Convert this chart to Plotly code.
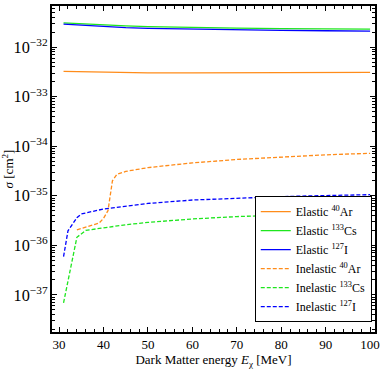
import plotly.graph_objects as go

# ---------- data ----------
e_el = [31, 35, 40, 45, 50, 60, 70, 80, 90, 100]
el_ar = [3.25e-33, 3.18e-33, 3.1e-33, 3.05e-33, 3.02e-33, 3.02e-33, 3.04e-33, 3.06e-33, 3.08e-33, 3.1e-33]
el_cs = [3.1e-32, 2.95e-32, 2.8e-32, 2.68e-32, 2.6e-32, 2.48e-32, 2.42e-32, 2.37e-32, 2.33e-32, 2.3e-32]
el_i = [2.9e-32, 2.75e-32, 2.6e-32, 2.48e-32, 2.4e-32, 2.3e-32, 2.24e-32, 2.18e-32, 2.14e-32, 2.1e-32]

e_in_ar = [34, 36, 38, 39, 40, 41, 41.5, 42, 43, 45, 50, 60, 70, 80, 90, 100]
in_ar = [2.05e-36, 2.3e-36, 2.6e-36, 2.8e-36, 3.5e-36, 5e-36, 1e-35, 2e-35, 2.7e-35,
         3.1e-35, 3.7e-35, 4.6e-35, 5.4e-35, 6.1e-35, 6.7e-35, 7.2e-35]

e_in_cs = [31, 34, 36, 40, 45, 50, 60, 70, 80, 90, 100]
in_cs = [6.9e-38, 1.45e-36, 2.0e-36, 2.25e-36, 2.6e-36, 2.9e-36, 3.4e-36, 3.8e-36, 4.1e-36, 4.35e-36, 4.5e-36]

e_in_i = [31, 32, 34, 35, 40, 45, 50, 60, 70, 80, 90, 100]
in_i = [5.9e-37, 1.96e-36, 3.6e-36, 4.3e-36, 5.4e-36, 6.2e-36, 7.0e-36, 8.2e-36, 9.0e-36, 9.6e-36, 1.01e-35, 1.05e-35]

ORANGE = "#ff8c1a"
GREEN = "#1ee61e"
BLUE = "#0000ff"

fig = go.Figure()
series = [
    (e_el, el_ar, ORANGE, "solid", "Elastic <sup>40</sup>Ar"),
    (e_el, el_cs, GREEN, "solid", "Elastic <sup>133</sup>Cs"),
    (e_el, el_i, BLUE, "solid", "Elastic <sup>127</sup>I"),
    (e_in_ar, in_ar, ORANGE, "4px,2px", "Inelastic <sup>40</sup>Ar"),
    (e_in_cs, in_cs, GREEN, "4px,2px", "Inelastic <sup>133</sup>Cs"),
    (e_in_i, in_i, BLUE, "4px,2px", "Inelastic <sup>127</sup>I"),
]
for x, y, c, d, name in series:
    fig.add_trace(go.Scatter(x=x, y=y, mode="lines", name=name,
                             line=dict(color=c, width=1.3, dash=d)))

FONT = "Liberation Serif"
tickfont = dict(family=FONT, size=13, color="black")
fig.update_layout(
    width=382, height=370,
    margin=dict(l=52, r=7, t=6, b=38),
    paper_bgcolor="white", plot_bgcolor="white",
    font=dict(family=FONT, size=13, color="black"),
    showlegend=True,
    legend=dict(x=0.99, y=0.03, xanchor="right", yanchor="bottom",
                bordercolor="black", borderwidth=1, bgcolor="white",
                font=dict(family=FONT, size=12), tracegroupgap=0, itemwidth=30),
)
fig.update_xaxes(
    range=[28.4, 101.1], dtick=10, tick0=30, automargin=False, tickfont=tickfont,
    showline=True, linecolor="black", linewidth=1.5, mirror="allticks",
    ticks="inside", ticklen=5, tickcolor="black", showgrid=False, zeroline=False,
    minor=dict(ticks="inside", dtick=2, ticklen=3, tickcolor="black", showgrid=False),
    title=dict(text="Dark Matter energy <i>E</i><sub>χ</sub> [MeV]", standoff=4,
               font=dict(family=FONT, size=13)),
)
fig.update_yaxes(
    type="log", range=[-37.75, -31.17], dtick=1, automargin=False, tickfont=tickfont,
    exponentformat="power", showexponent="all",
    showline=True, linecolor="black", linewidth=1.5, mirror="allticks",
    ticks="inside", ticklen=5, tickcolor="black", showgrid=False, zeroline=False,
    minor=dict(ticks="inside", dtick="D1", ticklen=3, tickcolor="black", showgrid=False),
    title=dict(text="<i>σ</i> [cm<sup>2</sup>]", standoff=2,
               font=dict(family=FONT, size=13)),
)

# page body has a default 8px margin; drop it so the figure sits at 0,0
fig.write_html("out.html", config={"displayModeBar": False},
               post_script="document.body.style.margin='0';")
